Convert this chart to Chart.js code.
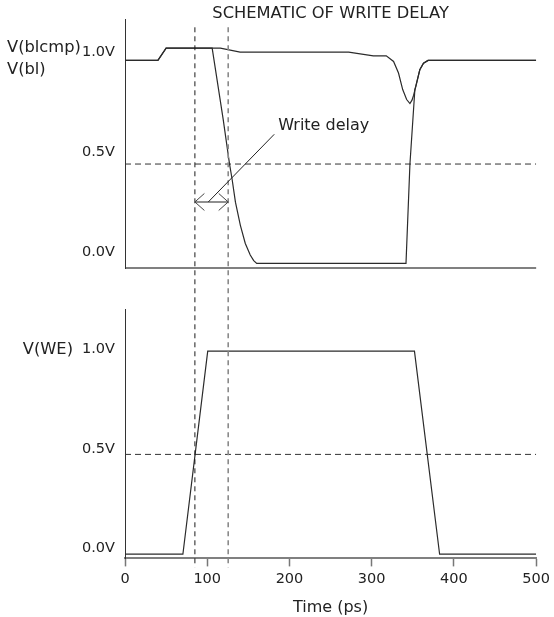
<!DOCTYPE html>
<html>
<head>
<meta charset="utf-8">
<script src="https://cdn.jsdelivr.net/npm/chart.js@4/dist/chart.umd.min.js"></script>
<style>
  html, body { margin: 0; padding: 0; background: #ffffff; }
  canvas { display: block; }
</style>
</head>
<body>
<canvas id="chart" width="554" height="617"></canvas>
<script>
// ---- data -------------------------------------------------------------
// time axis (ps)
const timeTicks = [0, 100, 200, 300, 400, 500];
// voltage tick labels (V)
const voltTicks = [0, 0.5, 1.0];

// complementary bit line V(blcmp)
const blcmpTime = [0, 40, 50, 116, 140, 272, 302, 317.7, 326.6, 332.6, 337.7, 342.5, 346.5, 349, 351, 353.7, 358.5, 363, 368.6, 500];
const blcmpVolt = [1.019, 1.019, 1.081, 1.081, 1.061, 1.061, 1.042, 1.042, 1.014, 0.956, 0.873, 0.823, 0.803, 0.82, 0.845, 0.89, 0.972, 1.005, 1.019, 1.019];

// bit line V(bl)
const blTime = [0, 40, 50, 106, 119.4, 127, 130.2, 134.3, 140.3, 146.3, 152.3, 156.5, 160.2, 341.7, 346.5, 352.5, 353.7, 358.5, 363, 368.6, 500];
const blVolt = [1.019, 1.019, 1.081, 1.081, 0.724, 0.503, 0.425, 0.309, 0.193, 0.102, 0.044, 0.016, 0.002, 0.002, 0.5, 0.873, 0.89, 0.972, 1.005, 1.019, 1.019];

// write enable V(WE)
const weTime = [0, 70.4, 100.6, 352, 382.6, 500];
const weVolt = [0, 0, 1.017, 1.017, 0, 0];

// 50 % switching threshold (V)
const thresholdVolt = 0.5;
// 50 % crossings: WE rising and bl falling (ps)
const delayMarks = [85, 125.5];
// annotation: arrow level, leader end and label anchor (time ps, volt)
const arrowVolt = 0.31;
const leaderStart = [101.3, 0.31];
const leaderEnd = [181.5, 0.649];
const noteAnchor = [186.3, 0.689];
const noteText = 'Write delay';

// ---- styling ----------------------------------------------------------
const FONT = "'DejaVu Sans', sans-serif";
const INK = '#222222';
const TRACE = '#2b2b2b';
const AXIS_GREY = '#808080';

const toPoints = (ts, vs) => ts.map((t, i) => ({ x: t, y: vs[i] }));
const trace = { borderColor: TRACE, borderWidth: 1.2, pointRadius: 0, fill: false, tension: 0 };
const threshold = { borderColor: '#333333', borderWidth: 1, borderDash: [6, 4], pointRadius: 0, fill: false };
const spanLine = v => [{ x: timeTicks[0], y: v }, { x: timeTicks[timeTicks.length - 1], y: v }];

// dashed time markers, double arrow, leader line and note
const delayAnnotation = {
  id: 'delayAnnotation',
  afterDatasetsDraw(chart) {
    const { ctx, scales } = chart;
    const x = scales.x, yTop = scales.yTop;
    ctx.save();

    // vertical markers through both panels
    const markTop = yTop.getPixelForValue(1.185);
    const markBottom = x.top + x.options.grid.tickLength + 1;
    const markStyle = [{ c: '#1a1a1a', w: 1 }, { c: '#8a8a8a', w: 1.6 }];
    delayMarks.forEach((t, i) => {
      const px = x.getPixelForValue(t);
      ctx.beginPath();
      ctx.setLineDash([5, 4]);
      ctx.strokeStyle = markStyle[i].c;
      ctx.lineWidth = markStyle[i].w;
      ctx.moveTo(px, markTop);
      ctx.lineTo(px, markBottom);
      ctx.stroke();
    });
    ctx.setLineDash([]);

    // double-headed arrow between the markers
    const ay = yTop.getPixelForValue(arrowVolt);
    const ax1 = x.getPixelForValue(delayMarks[0]);
    const ax2 = x.getPixelForValue(delayMarks[1]);
    ctx.beginPath();
    ctx.strokeStyle = '#6a6a6a';
    ctx.lineWidth = 1.5;
    ctx.moveTo(ax1, ay);
    ctx.lineTo(ax2, ay);
    ctx.stroke();
    ctx.beginPath();
    ctx.strokeStyle = '#444444';
    ctx.lineWidth = 1;
    const hl = 9.5, hh = 8.5;
    ctx.moveTo(ax1 + hl, ay - hh); ctx.lineTo(ax1, ay); ctx.lineTo(ax1 + hl, ay + hh);
    ctx.moveTo(ax2 - hl, ay - hh); ctx.lineTo(ax2, ay); ctx.lineTo(ax2 - hl, ay + hh);
    ctx.stroke();

    // leader line to the note
    ctx.beginPath();
    ctx.strokeStyle = INK;
    ctx.lineWidth = 1;
    ctx.moveTo(x.getPixelForValue(leaderStart[0]), yTop.getPixelForValue(leaderStart[1]));
    ctx.lineTo(x.getPixelForValue(leaderEnd[0]), yTop.getPixelForValue(leaderEnd[1]));
    ctx.stroke();

    ctx.fillStyle = INK;
    ctx.font = '16px ' + FONT;
    ctx.textAlign = 'left';
    ctx.textBaseline = 'middle';
    ctx.fillText(noteText, x.getPixelForValue(noteAnchor[0]), yTop.getPixelForValue(noteAnchor[1]));
    ctx.restore();
  }
};

// signal names beside the 1.0V labels
const signalNames = {
  id: 'signalNames',
  afterDraw(chart) {
    const { ctx, scales } = chart;
    const topHigh = scales.yTop.getPixelForValue(1.0);
    const botHigh = scales.yBot.getPixelForValue(1.0);
    ctx.save();
    ctx.fillStyle = INK;
    ctx.font = '16.3px ' + FONT;
    ctx.textBaseline = 'middle';
    ctx.textAlign = 'left';
    ctx.fillText('V(blcmp)', 7, topHigh - 16.5);
    ctx.fillText('V(bl)', 7, topHigh + 5.5);
    ctx.textAlign = 'right';
    ctx.fillText('V(WE)', 73, botHigh - 4.7);
    ctx.restore();
  }
};

const voltLabel = v => v.toFixed(1) + 'V';
const fixWidth = s => { s.width = 125; };

new Chart(document.getElementById('chart'), {
  type: 'line',
  data: {
    datasets: [
      { label: 'V(blcmp)', data: toPoints(blcmpTime, blcmpVolt), yAxisID: 'yTop', ...trace },
      { label: 'V(bl)', data: toPoints(blTime, blVolt), yAxisID: 'yTop', ...trace },
      { label: 'V(WE)', data: toPoints(weTime, weVolt), yAxisID: 'yBot', ...trace },
      { label: 'threshold bit lines', data: spanLine(thresholdVolt), yAxisID: 'yTop', ...threshold },
      { label: 'threshold WE', data: spanLine(thresholdVolt), yAxisID: 'yBot', ...threshold }
    ]
  },
  options: {
    responsive: false,
    animation: false,
    layout: { padding: { left: 0, right: 12, top: 0, bottom: 0 } },
    plugins: {
      legend: { display: false },
      tooltip: { enabled: false },
      title: {
        display: true,
        text: 'SCHEMATIC OF WRITE DELAY',
        fullSize: false,
        color: INK,
        font: { family: FONT, size: 16.3, weight: 'normal', lineHeight: 1 },
        padding: { top: 6, bottom: -3 }
      }
    },
    scales: {
      x: {
        type: 'linear',
        position: 'bottom',
        min: timeTicks[0],
        max: timeTicks[timeTicks.length - 1],
        afterBuildTicks: s => { s.ticks = timeTicks.map(v => ({ value: v })); },
        ticks: {
          autoSkip: false, maxRotation: 0, padding: 4, color: INK,
          font: { family: FONT, size: 14.5 },
          callback: v => String(v)
        },
        grid: { drawOnChartArea: false, drawTicks: true, tickLength: 8, tickColor: '#777777', tickWidth: 1.5 },
        border: { color: AXIS_GREY, width: 2 },
        title: {
          display: true, text: 'Time (ps)', color: INK,
          font: { family: FONT, size: 16, weight: 'normal' },
          padding: { top: 6, bottom: 0 }
        }
      },
      yTop: {
        type: 'linear', position: 'left', stack: 'panels', stackWeight: 251, weight: 3,
        min: -0.021, max: 1.225,
        afterBuildTicks: s => { s.ticks = [{ value: s.min }, ...voltTicks.map(v => ({ value: v }))]; },
        afterFit: fixWidth,
        ticks: {
          autoSkip: false, padding: 10, labelOffset: -11.5, color: INK,
          font: { family: FONT, size: 14.5 },
          callback: (v, i) => (i === 0 ? '' : voltLabel(v))
        },
        grid: {
          drawTicks: false,
          color: c => (c.index === 0 ? AXIS_GREY : 'rgba(0,0,0,0)'),
          lineWidth: c => (c.index === 0 ? 2 : 0)
        },
        border: { color: '#333333', width: 1 }
      },
      yGap: {
        type: 'linear', position: 'left', stack: 'panels', stackWeight: 42, weight: 2,
        afterFit: fixWidth,
        ticks: { display: false },
        grid: { display: false },
        border: { display: false }
      },
      yBot: {
        type: 'linear', position: 'left', stack: 'panels', stackWeight: 251, weight: 1,
        min: -0.021, max: 1.225,
        afterBuildTicks: s => { s.ticks = voltTicks.map(v => ({ value: v })); },
        afterFit: fixWidth,
        ticks: {
          autoSkip: false, padding: 10, labelOffset: -5.5, color: INK,
          font: { family: FONT, size: 14.5 },
          callback: v => voltLabel(v)
        },
        grid: { drawOnChartArea: false, drawTicks: false },
        border: { color: '#333333', width: 1 }
      }
    }
  },
  plugins: [delayAnnotation, signalNames]
});
</script>
</body>
</html>
